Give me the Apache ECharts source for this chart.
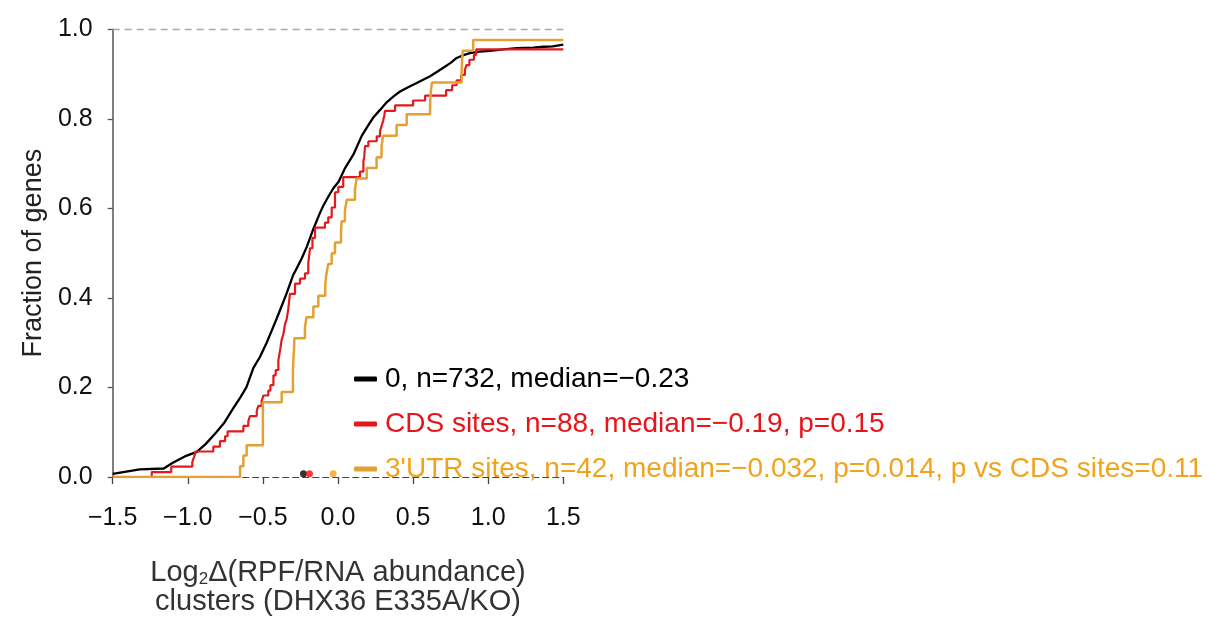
<!DOCTYPE html>
<html>
<head>
<meta charset="utf-8">
<script src="https://cdn.jsdelivr.net/npm/echarts@6/dist/echarts.min.js"></script>
<style>
  html, body { margin: 0; padding: 0; background: #fff; }
  #chart { width: 1212px; height: 621px; }
</style>
</head>
<body>
<div id="chart"></div>
<script>
// cumulative fraction curves, [log2 change, fraction of genes]
const allGenes = [
  [-1.5, 0.007], [-1.32, 0.017], [-1.16, 0.019], [-1.10, 0.032], [-1.02, 0.046],
  [-0.94, 0.056], [-0.88, 0.074], [-0.81, 0.100], [-0.76, 0.120], [-0.70, 0.152],
  [-0.65, 0.178], [-0.61, 0.200], [-0.564, 0.243], [-0.52, 0.268], [-0.475, 0.300],
  [-0.44, 0.328], [-0.408, 0.354], [-0.375, 0.382], [-0.342, 0.410], [-0.30, 0.450],
  [-0.275, 0.466], [-0.242, 0.488], [-0.208, 0.514], [-0.164, 0.554], [-0.12, 0.590],
  [-0.098, 0.606], [-0.065, 0.626], [-0.031, 0.645], [0.005, 0.660], [0.047, 0.690],
  [0.102, 0.720], [0.158, 0.762], [0.20, 0.785], [0.235, 0.803], [0.28, 0.820],
  [0.324, 0.837], [0.37, 0.850], [0.413, 0.861], [0.47, 0.871], [0.524, 0.880],
  [0.613, 0.895], [0.66, 0.905], [0.701, 0.914], [0.75, 0.925], [0.79, 0.936],
  [0.84, 0.943], [0.879, 0.947], [0.94, 0.950], [1.01, 0.952], [1.10, 0.955],
  [1.19, 0.958], [1.30, 0.959], [1.37, 0.961], [1.43, 0.962], [1.5, 0.966]
];
const cdsSites = [
  [-1.5, 0], [-1.24, 0.011], [-1.11, 0.023], [-0.97, 0.034], [-0.958, 0.045],
  [-0.948, 0.057], [-0.83, 0.068], [-0.786, 0.080], [-0.752, 0.091], [-0.735, 0.102],
  [-0.63, 0.114], [-0.597, 0.125], [-0.586, 0.136], [-0.541, 0.148], [-0.53, 0.159],
  [-0.508, 0.170], [-0.497, 0.182], [-0.464, 0.193], [-0.45, 0.205], [-0.43, 0.227],
  [-0.415, 0.239], [-0.397, 0.261], [-0.385, 0.284], [-0.375, 0.307], [-0.364, 0.318],
  [-0.353, 0.341], [-0.342, 0.352], [-0.331, 0.375], [-0.32, 0.409], [-0.286, 0.432],
  [-0.253, 0.443], [-0.22, 0.455], [-0.198, 0.477], [-0.186, 0.511], [-0.17, 0.534],
  [-0.153, 0.557], [-0.087, 0.568], [-0.065, 0.580], [-0.042, 0.602], [-0.02, 0.636],
  [0.002, 0.648], [0.035, 0.670], [0.146, 0.682], [0.169, 0.705], [0.175, 0.716],
  [0.18, 0.739], [0.202, 0.750], [0.258, 0.761], [0.28, 0.773], [0.29, 0.784],
  [0.30, 0.795], [0.308, 0.807], [0.313, 0.818], [0.38, 0.830], [0.50, 0.841],
  [0.58, 0.852], [0.72, 0.864], [0.76, 0.875], [0.79, 0.886], [0.82, 0.898],
  [0.845, 0.909], [0.855, 0.920], [0.875, 0.932], [0.905, 0.943], [0.92, 0.955],
  [1.5, 0.955]
];
const utrSites = [
  [-1.5, 0], [-0.652, 0.024], [-0.63, 0.048], [-0.608, 0.071], [-0.50, 0.167],
  [-0.375, 0.190], [-0.30, 0.238], [-0.297, 0.262], [-0.293, 0.286], [-0.29, 0.310],
  [-0.22, 0.333], [-0.21, 0.357], [-0.164, 0.381], [-0.131, 0.405], [-0.085, 0.429],
  [-0.078, 0.452], [-0.065, 0.476], [-0.042, 0.500], [-0.02, 0.524], [0.02, 0.548],
  [0.024, 0.571], [0.046, 0.595], [0.058, 0.619], [0.113, 0.643], [0.124, 0.667],
  [0.191, 0.690], [0.257, 0.714], [0.29, 0.738], [0.30, 0.762], [0.39, 0.786],
  [0.457, 0.810], [0.613, 0.833], [0.617, 0.857], [0.625, 0.881], [0.823, 0.905],
  [0.826, 0.929], [0.83, 0.952], [0.90, 0.976], [1.5, 0.976]
];
const medians = [-0.23, -0.19, -0.032];
const seriesNames = [
  '0, n=732, median=\u22120.23',
  'CDS sites, n=88, median=\u22120.19, p=0.15',
  "3'UTR sites, n=42, median=\u22120.032, p=0.014, p vs CDS sites=0.11"
];
const lineColors = ['#000000', '#e3191c', '#e3a132'];
const textColors = ['#000000', '#e8141c', '#f0a41e'];
const xTicks = [-1.5, -1.0, -0.5, 0.0, 0.5, 1.0, 1.5];
const yTicks = [0.0, 0.2, 0.4, 0.6, 0.8, 1.0];

const font = '"Liberation Sans", Arial, Helvetica, sans-serif';
const chart = echarts.init(document.getElementById('chart'));

const fmt = v => (v < 0 ? '\u2212' : '') + Math.abs(v).toFixed(1);

chart.setOption({
  animation: false,
  backgroundColor: '#fff',
  textStyle: { fontFamily: font },
  grid: { left: 112.7, right: 648.7, top: 29.3, bottom: 141.7 },
  legend: {
    orient: 'vertical',
    left: 349,
    top: 360,
    itemWidth: 23,
    itemHeight: 5,
    itemGap: 17,
    selectedMode: false,
    textStyle: { fontSize: 28, fontFamily: font, padding: [0, 0, 0, 3] },
    data: seriesNames.map((n, i) => ({
      name: n,
      icon: 'roundRect',
      itemStyle: { color: lineColors[i] },
      textStyle: { color: textColors[i] }
    }))
  },
  xAxis: {
    type: 'value',
    min: xTicks[0],
    max: xTicks[xTicks.length - 1],
    interval: 0.5,
    splitLine: { show: false },
    axisLine: { onZero: false, lineStyle: { color: '#444', width: 1.2, type: [6, 4] } },
    axisTick: { length: 7, lineStyle: { color: '#444', width: 1.3, type: 'solid' } },
    axisLabel: { fontSize: 25, color: '#111', margin: 29, formatter: fmt },
    name: 'Log{sub|2}\u0394(RPF/RNA abundance)\nclusters (DHX36 E335A/KO)',
    nameLocation: 'middle',
    nameGap: 81,
    nameTextStyle: {
      fontSize: 29, color: '#333', lineHeight: 29,
      rich: { sub: { fontSize: 17, color: '#333', padding: [14, 0, 0, 0] } }
    }
  },
  yAxis: {
    type: 'value',
    min: yTicks[0],
    max: yTicks[yTicks.length - 1],
    interval: 0.2,
    splitLine: { show: false },
    axisLine: { show: true, onZero: false, lineStyle: { color: '#555', width: 1.5 } },
    axisTick: { show: true, length: 5, lineStyle: { color: '#555', width: 1.3 } },
    axisLabel: { fontSize: 25, color: '#111', margin: 20, formatter: v => v.toFixed(1) },
    name: 'Fraction of genes',
    nameLocation: 'middle',
    nameGap: 66,
    nameTextStyle: { fontSize: 27, color: '#222' }
  },
  series: [
    {
      name: seriesNames[0],
      type: 'line',
      data: allGenes,
      showSymbol: false,
      lineStyle: { color: lineColors[0], width: 2.3 },
      itemStyle: { color: lineColors[0] },
      z: 3,
      markLine: {
        silent: true,
        symbol: 'none',
        label: { show: false },
        lineStyle: { color: '#aaa', type: [7, 5], width: 1.4 },
        data: [{ yAxis: 1 }]
      }
    },
    {
      name: seriesNames[1],
      type: 'line',
      step: 'end',
      data: cdsSites,
      showSymbol: false,
      lineStyle: { color: lineColors[1], width: 2.2 },
      itemStyle: { color: lineColors[1] },
      z: 4
    },
    {
      name: seriesNames[2],
      type: 'line',
      step: 'end',
      data: utrSites,
      showSymbol: false,
      lineStyle: { color: lineColors[2], width: 2.5 },
      itemStyle: { color: lineColors[2] },
      z: 5
    },
    {
      type: 'scatter',
      data: medians.map((m, i) => ({ value: [m, 0.007], itemStyle: { color: i === 2 ? '#f0a41e' : (i === 1 ? '#ff0a0a' : '#000') } })),
      symbolSize: 7,
      z: 6
    }
  ]
});
</script>
</body>
</html>
